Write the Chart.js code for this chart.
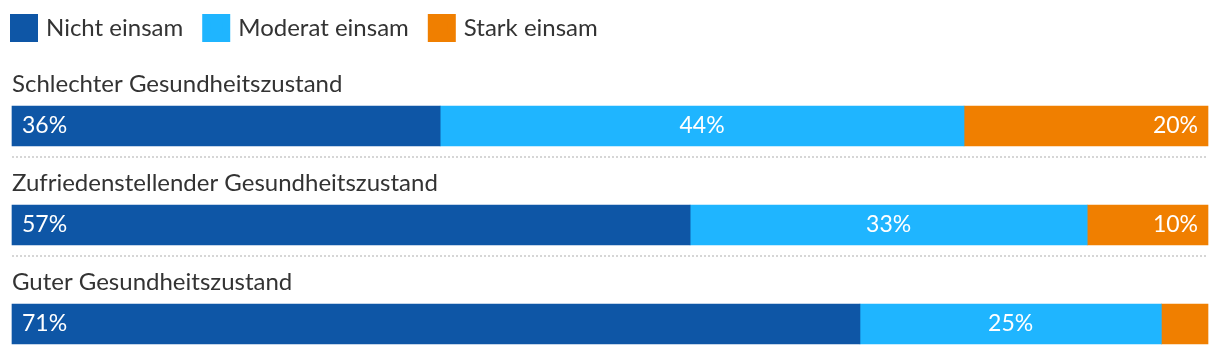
<!DOCTYPE html>
<html>
<head>
<meta charset="utf-8">
<script src="https://cdn.jsdelivr.net/npm/chart.js@4"></script>
<style>
  html, body { margin: 0; padding: 0; background: #fff; }
  #wrap { width: 1220px; height: 354px; }
</style>
</head>
<body>
<div id="wrap"><canvas id="loneliness"></canvas></div>
<script>
var categories = ['Schlechter Gesundheitszustand', 'Zufriedenstellender Gesundheitszustand', 'Guter Gesundheitszustand'];
var seriesNames = ['Nicht einsam', 'Moderat einsam', 'Stark einsam'];
var nichtEinsam = [35.8, 56.7, 70.9];
var moderatEinsam = [43.8, 33.2, 25.2];
var starkEinsam = [20.4, 10.1, 3.9];
var seriesColors = ['#0e56a6', '#1fb5ff', '#f07f00'];

Chart.defaults.font.family = 'Lato, "Open Sans", sans-serif';
Chart.defaults.color = '#333';

// labels above each bar, dotted separators and % labels inside segments
var barLabels = {
    id: 'barLabels',
    beforeInit: function(chart) {
        var origFit = chart.legend.fit;
        chart.legend.fit = function() {
            origFit.call(this);
            this.height = 133;
        };
    },
    afterDatasetsDraw: function(chart) {
        var ctx = chart.ctx;
        var area = chart.chartArea;
        var bars = chart.getDatasetMeta(0).data;
        ctx.save();
        bars.forEach(function(bar, i) {
            var top = bar.y - bar.height / 2;
            ctx.fillStyle = '#333';
            ctx.font = '24px Lato';
            ctx.textAlign = 'left';
            ctx.textBaseline = 'middle';
            ctx.fillText(categories[i], area.left, top - 22);
            if (i < bars.length - 1) {
                ctx.strokeStyle = '#d6d6d6';
                ctx.lineWidth = 2;
                ctx.setLineDash([2, 2]);
                ctx.beginPath();
                ctx.moveTo(area.left, top + bar.height + 11);
                ctx.lineTo(area.right, top + bar.height + 11);
                ctx.stroke();
                ctx.setLineDash([]);
            }
        });
        chart.data.datasets.forEach(function(ds, d) {
            chart.getDatasetMeta(d).data.forEach(function(el, i) {
                var v = ds.data[i];
                if (v < 5) return;
                var left = Math.min(el.base, el.x);
                var right = Math.max(el.base, el.x);
                ctx.fillStyle = '#fff';
                ctx.font = '23px Lato';
                ctx.textBaseline = 'middle';
                var txt = Math.round(v) + '%';
                if (d == 0) {
                    ctx.textAlign = 'left';
                    ctx.fillText(txt, left + 10, el.y);
                } else if (d == chart.data.datasets.length - 1) {
                    ctx.textAlign = 'right';
                    ctx.fillText(txt, right - 10, el.y);
                } else {
                    ctx.textAlign = 'center';
                    ctx.fillText(txt, (left + right) / 2, el.y);
                }
            });
        });
        ctx.restore();
    }
};

var allSeries = [nichtEinsam, moderatEinsam, starkEinsam];
var datasets = [];
allSeries.forEach(function(values, i) {
    datasets.push({
        label: seriesNames[i],
        data: values,
        backgroundColor: seriesColors[i],
        borderWidth: 0,
        barThickness: 40,
        clip: false
    });
});

var ctx = document.getElementById('loneliness');
var myChart = new Chart(ctx, {
    type: 'bar',
    data: {
        labels: categories,
        datasets: datasets
    },
    options: {
        indexAxis: 'y',
        responsive: true,
        maintainAspectRatio: false,
        animation: false,
        layout: {
            padding: { top: -7, right: 12, bottom: 30, left: -9 }
        },
        scales: {
            x: {
                stacked: true,
                min: 0,
                max: 100,
                display: false
            },
            y: {
                stacked: true,
                offset: false,
                grid: { display: false },
                border: { display: false },
                ticks: { display: false },
                afterFit: function(scale) { scale.width = 21; }
            }
        },
        plugins: {
            legend: {
                position: 'top',
                align: 'start',
                labels: {
                    boxWidth: 20,
                    boxHeight: 20,
                    padding: 23,
                    color: '#333',
                    font: { size: 24 },
                    generateLabels: function(chart) {
                        var items = Chart.defaults.plugins.legend.labels.generateLabels(chart);
                        items.forEach(function(item) {
                            // thick border in the same colour makes a 28px square
                            item.lineWidth = 8;
                            item.strokeStyle = item.fillStyle;
                        });
                        return items;
                    }
                }
            },
            tooltip: { enabled: false }
        }
    },
    plugins: [barLabels]
});
</script>
</body>
</html>
